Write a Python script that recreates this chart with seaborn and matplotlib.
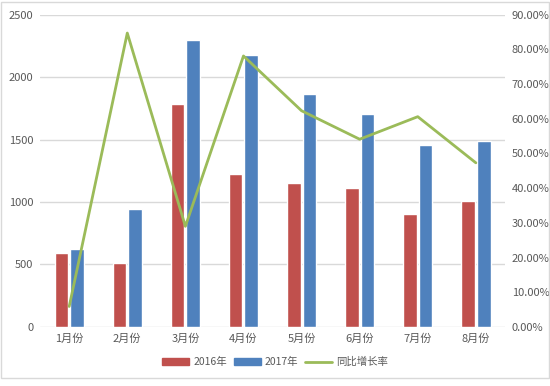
import matplotlib
matplotlib.use("Agg")
import matplotlib.pyplot as plt
import seaborn as sns
import pandas as pd
from matplotlib.patches import Patch, Rectangle
from matplotlib.lines import Line2D
from matplotlib.ticker import FuncFormatter

months = ['1月份', '2月份', '3月份', '4月份', '5月份', '6月份', '7月份', '8月份']
sales_2016 = [590, 515, 1784, 1222, 1149, 1115, 904, 1008]
sales_2017 = [625, 945, 2296, 2178, 1864, 1707, 1456, 1488]
growth = [0.059, 0.847, 0.290, 0.781, 0.623, 0.541, 0.606, 0.473]

RED = '#C0504D'
BLUE = '#4F81BD'
GREEN = '#9BBB59'

sns.set_style('white')
plt.rcParams['font.family'] = ['Noto Sans CJK SC', 'DejaVu Sans']

df = pd.DataFrame({
    'month': months * 2,
    'year': ['2016年'] * 8 + ['2017年'] * 8,
    'value': sales_2016 + sales_2017,
})

fig = plt.figure(figsize=(5.5, 3.86), dpi=100)
ax = fig.add_axes([0.073, 0.153, 0.845, 0.809])

sns.barplot(data=df, x='month', y='value', hue='year', palette=[RED, BLUE],
            width=0.54, gap=0.13, ax=ax, legend=False, saturation=1)
ax.set_ylim(0, 2500)
ax.set_xlim(-0.5, 7.5)
ax.set_yticks(range(0, 2501, 500))
ax.yaxis.grid(True, color='#D9D9D9', linewidth=1)
ax.set_axisbelow(True)
ax.set_xlabel('')
ax.set_ylabel('')
for s in ax.spines.values():
    s.set_visible(False)
ax.tick_params(axis='both', length=0, labelsize=8, colors='#595959', pad=5)

ax2 = ax.twinx()
sns.lineplot(x=list(range(8)), y=growth, ax=ax2, color=GREEN, linewidth=2)
ax2.set_ylim(0, 0.9)
ax2.set_yticks([i / 10 for i in range(10)])
ax2.yaxis.set_major_formatter(FuncFormatter(lambda v, p: f'{v * 100:.2f}%'))
for s in ax2.spines.values():
    s.set_visible(False)
ax2.tick_params(axis='y', length=0, labelsize=8, colors='#595959', pad=5)

handles = [Patch(color=RED, label='2016年'), Patch(color=BLUE, label='2017年'),
           Line2D([], [], color=GREEN, linewidth=2, label='同比增长率')]
fig.legend(handles=handles, loc='center', bbox_to_anchor=(0.5, 0.062), ncol=3,
           frameon=False, fontsize=7.5, handlelength=2.6, handleheight=0.6,
           handletextpad=0.4, columnspacing=0.6, labelcolor='#595959')

fig.patches.append(Rectangle((0.002, 0.02), 0.996, 0.976, transform=fig.transFigure,
                             fill=False, edgecolor='#D9D9D9', linewidth=1))

fig.savefig('out.png', dpi=100)
